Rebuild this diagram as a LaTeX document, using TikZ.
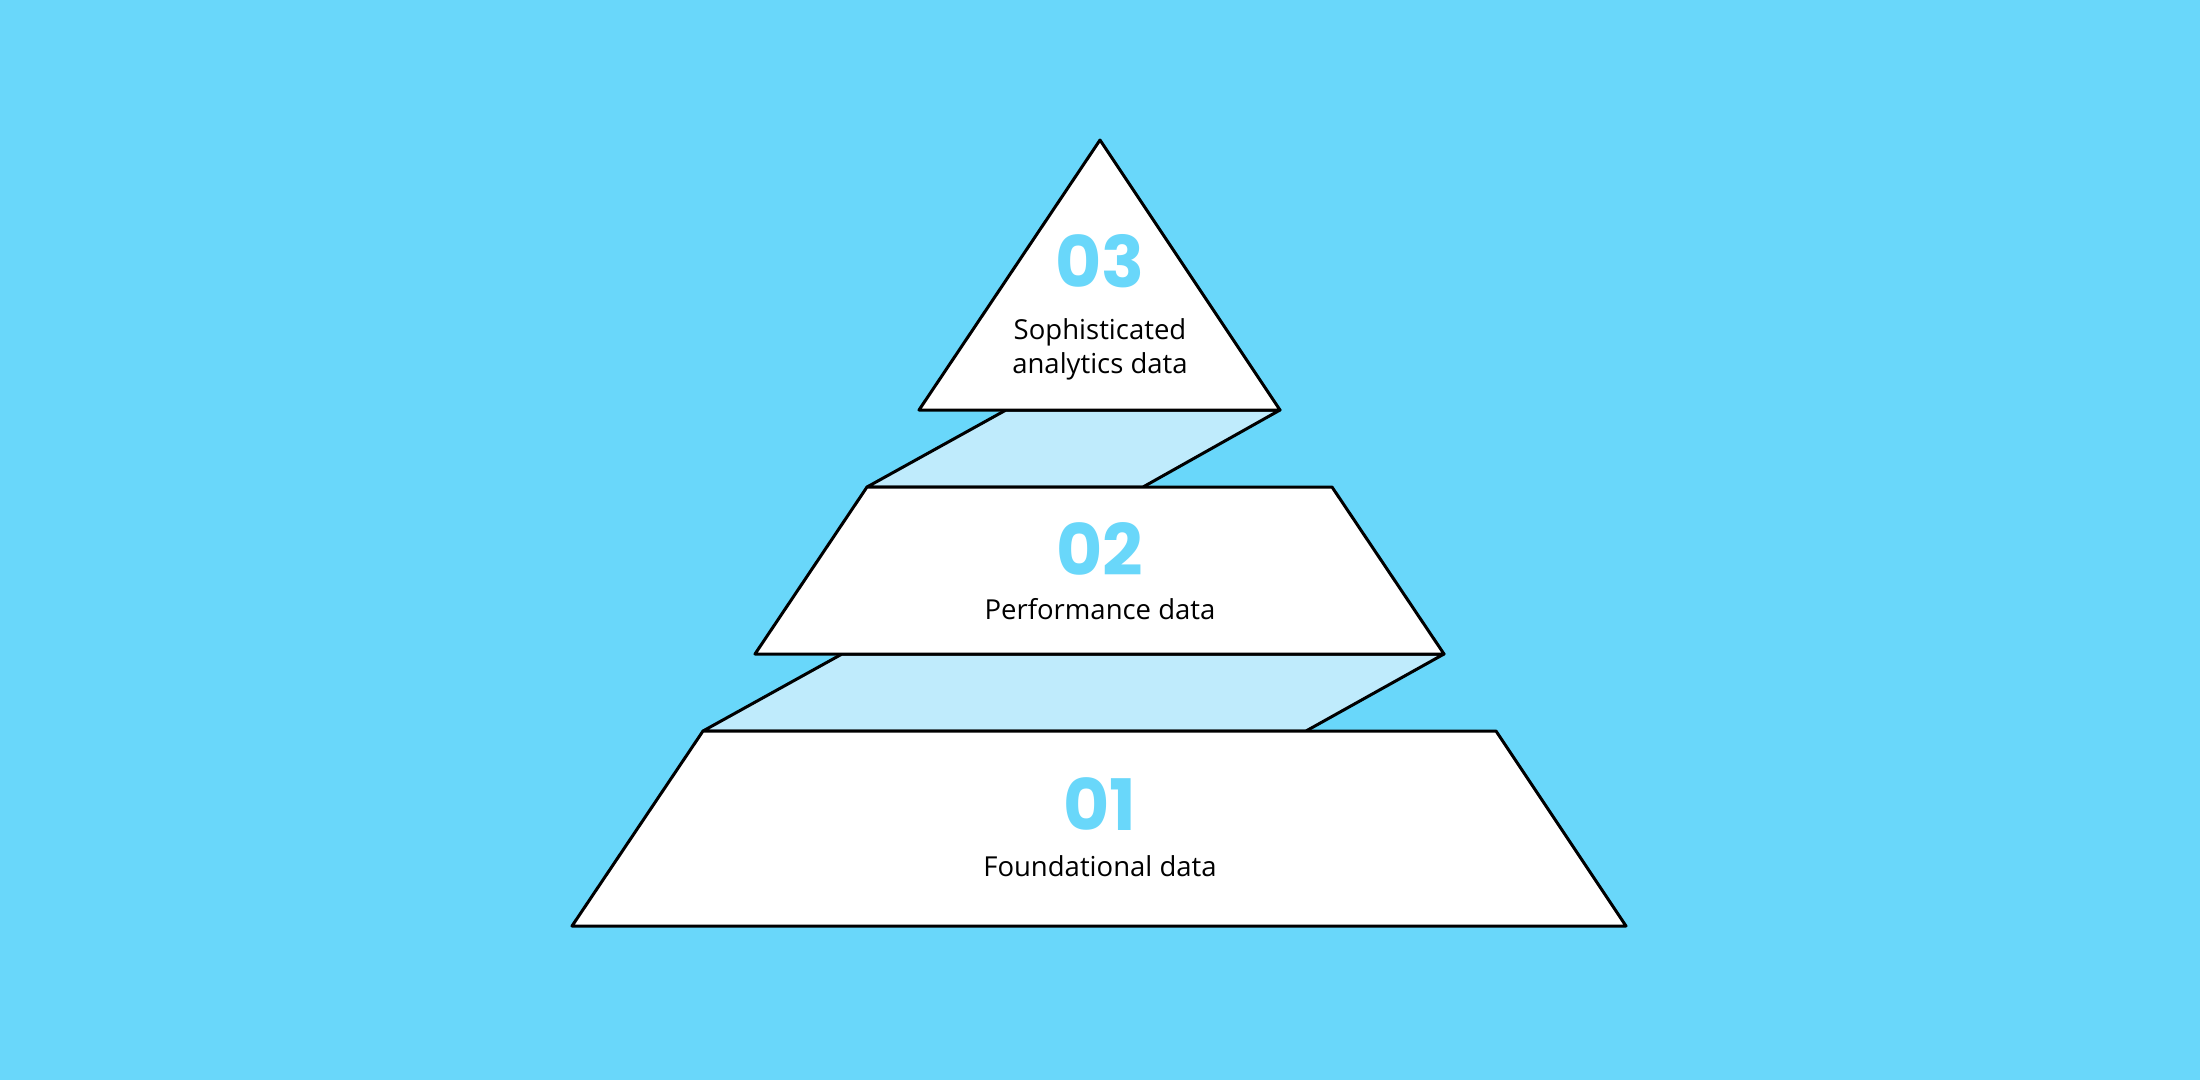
\documentclass[tikz,border=0pt]{standalone}
\usepackage{fontspec}
\setmainfont{Open Sans}
\newfontfamily\digitfont{Poppins}
\definecolor{bgblue}{HTML}{69D7FA}
\definecolor{bandblue}{HTML}{BFEBFC}
\begin{document}
\begin{tikzpicture}[x=1pt,y=-1pt,
  layer/.style={fill=white,draw=black,line width=3pt,line join=round},
  band/.style={fill=bandblue,draw=black,line width=3pt,line join=round},
  num/.style={font=\digitfont\bfseries\fontsize{71}{71}\selectfont,text=bgblue,inner sep=0pt,anchor=center},
  lbl/.style={font=\fontsize{27.5}{34}\selectfont,text=black,align=center,inner sep=0pt,anchor=center}]
\fill[bgblue] (0,0) rectangle (2200,1080);
\useasboundingbox (0,0) rectangle (2200,1080);
% connecting bands
\draw[band] (1006,410) -- (1280,410) -- (1143,487) -- (867,487) -- cycle;
\draw[band] (842,654) -- (1444,654) -- (1306,731) -- (703,731) -- cycle;
% layers
\draw[layer] (1100,140) -- (1280,410) -- (919,410) -- cycle;
\draw[layer] (867,487) -- (1332,487) -- (1444,654) -- (755,654) -- cycle;
\draw[layer] (703,731) -- (1496,731) -- (1626,926) -- (572,926) -- cycle;
% texts
\node[num] (n3) at (1100,261) {03};
\node[lbl] (l3) at (1100,349) {Sophisticated\\analytics data};
\node[num] (n2) at (1100,549) {02};
\node[lbl] (l2) at (1100,609) {Performance data};
\node[num] (n1) at (1100,804) {01};
\node[lbl] (l1) at (1100,866) {Foundational data};
\end{tikzpicture}
\end{document}
